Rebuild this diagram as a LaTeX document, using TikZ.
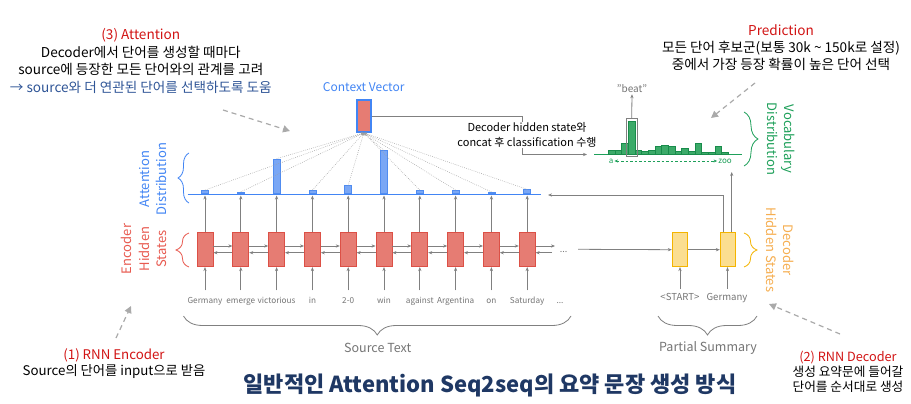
\documentclass[tikz,border=0pt]{standalone}
\usepackage{fontspec}
\setmainfont{Noto Sans CJK KR}
\usetikzlibrary{arrows.meta,decorations.pathreplacing,calc}
\definecolor{garr}{RGB}{128,128,128}
\definecolor{encfill}{RGB}{230,124,115}
\definecolor{encdraw}{RGB}{220,80,70}
\definecolor{decfill}{RGB}{251,222,145}
\definecolor{decdraw}{RGB}{244,180,0}
\definecolor{abfill}{RGB}{122,167,245}
\definecolor{abdraw}{RGB}{80,140,240}
\definecolor{ablue}{RGB}{66,133,244}
\definecolor{vgreen}{RGB}{30,160,90}
\definecolor{vbfill}{RGB}{60,170,105}
\definecolor{vbdraw}{RGB}{25,140,75}
\definecolor{hred}{RGB}{210,20,20}
\definecolor{encred}{RGB}{232,90,80}
\definecolor{decorange}{RGB}{246,174,80}
\definecolor{wgray}{RGB}{117,117,117}
\definecolor{noteblue}{RGB}{47,85,151}
\definecolor{navy}{RGB}{31,56,100}
\definecolor{dgray}{RGB}{170,170,170}
\begin{document}
\begin{tikzpicture}[x=1pt,y=-1pt,
  arr/.style={draw=garr, line width=0.8pt, -{Stealth[length=4pt,width=3.2pt]}},
  encbox/.style={draw=encdraw, fill=encfill, line width=0.8pt, minimum width=16pt, minimum height=34pt, inner sep=0pt},
  decbox/.style={draw=decdraw, fill=decfill, line width=0.8pt, minimum width=15.5pt, minimum height=34pt, inner sep=0pt},
  word/.style={text=wgray, font=\fontsize{8.2}{10}\selectfont, inner xsep=1pt, inner ysep=6pt, text height=7pt, text depth=2pt},
  dword/.style={word, font=\fontsize{9.6}{11}\selectfont, inner ysep=4.5pt},
  abar/.style={draw=abdraw, fill=abfill, line width=0.6pt, minimum width=7pt, inner sep=0pt, anchor=south},
  vbar/.style={draw=vbdraw, fill=vbfill, line width=0.5pt, minimum width=6.667pt, inner sep=0pt, anchor=south},
  dotline/.style={draw=gray!75, line width=0.5pt, dash pattern=on 0.7pt off 1.3pt, -{Stealth[length=3pt,width=2.5pt]}},
  dasharr/.style={draw=dgray, line width=1.2pt, dash pattern=on 5pt off 4pt, -{Triangle[length=7pt,width=7pt]}},
  annot/.style={align=center, font=\fontsize{13.6}{17.6}\selectfont},
  bracestyle/.style={decorate, line width=0.8pt},
  sidelbl/.style={align=center, font=\fontsize{13}{17.4}\selectfont},
]
\fill[white] (0,0) rectangle (911,404);
\useasboundingbox (0,0) rectangle (911,404);

% encoder boxes and words
\foreach \w [count=\i from 0] in {Germany,emerge,victorious,in,2-0,win,against,Argentina,on,Saturday}{
  \node[encbox] (e\i) at ({205+35.8*\i},249.7) {};
  \node[word] (w\i) at ({205+35.8*\i},301) {\w};
  \draw[arr] (w\i.north) -- (e\i.south);
}
\node[word] (wdots) at (560,301) {...};

% horizontal encoder arrows
\foreach \i in {0,...,8}{
  \pgfmathtruncatemacro{\j}{\i+1}
  \draw[arr] ([yshift=3.7pt]e\i.east) -- ([yshift=3.7pt]e\j.west);
  \draw[arr] ([yshift=-3pt]e\j.west) -- ([yshift=-3pt]e\i.east);
}
\coordinate (efw) at (555,246);
\coordinate (ebw) at (552,252.7);
\draw[arr] ([yshift=3.7pt]e9.east) -- (efw);
\draw[arr] (ebw) -- ([yshift=-3pt]e9.east);
\node[text=wgray, font=\fontsize{9}{10}\selectfont, anchor=base] (edots) at (563.5,252) {...};

% decoder
\node[decbox] (d0) at (680,249.7) {};
\node[decbox] (d1) at (728,249.7) {};
\node[dword] (s0) at (680,298) {<START>};
\node[dword] (s1) at (727,298) {Germany};
\draw[arr] (s0.north) -- (d0.south);
\draw[arr] ([xshift=0.5pt]s1.north) -- ([xshift=-0.5pt]d1.south);
\coordinate (dstart) at (578,249.3);
\draw[arr] (dstart) -- (d0.west);
\draw[arr] (d0.east) -- (d1.west);

% attention line and bars
\draw[draw=ablue, line width=0.9pt] (187.7,194.3) -- (540.7,194.3);
\foreach \i/\h in {0/3.3,1/1.5,2/34.7,3/3.3,4/8,5/43,6/3.3,7/3.3,8/1.5,9/4}{
  \node[abar, minimum height=\h pt] (b\i) at ({205+35.8*\i},194) {};
}
\foreach \i in {0,...,9}{
  \draw[arr, shorten >=1.5pt] (e\i.north) -- (b\i.south);
}

% context vector
\node[draw=ablue, fill=encfill, line width=2.2pt, minimum width=14pt, minimum height=31.5pt, inner sep=0pt] (cv) at (363.85,116) {};
\node[text=ablue, font=\fontsize{12}{14}\selectfont] (cvlbl) at (363.7,87.3) {Context Vector};
\foreach \i in {0,...,9}{
  \draw[dotline] (b\i.north) -- (cv.south);
}

% decoder back to attention, and up to vocab
\coordinate (attin) at (548,195);
\draw[arr] ([xshift=-4.7pt]d1.north) |- (attin);
\coordinate (zooarr) at (731.7,172);
\draw[arr] ([xshift=3.7pt]d1.north) -- (zooarr);

% vocabulary distribution
\draw[draw=vgreen, line width=0.9pt] (594,154.5) -- (742,154.5);
\foreach \t [count=\k from 0] in {150.7,150,143.3,121,150,151.3,150,146.7,145.3,146,151,148.3,151,143.3,152.3,152.3,146,152.3}{
  \pgfmathsetmacro{\hh}{154.5-\t}
  \node[vbar, minimum height=\hh pt] (v\k) at ({608.3+6.667*(\k+0.5)},154.5) {};
}
\node[draw=garr, line width=0.8pt, minimum width=11.3pt, minimum height=38.4pt, inner sep=0pt] (bbox) at (631.7,137.5) {};
\node[text=wgray, font=\fontsize{10}{12}\selectfont, inner sep=1pt] (beat) at (632,89) {"beat"};
\draw[arr] (bbox.north) -- (beat.south);
\node[text=vgreen, font=\fontsize{8}{9}\selectfont, inner sep=1pt] (alab) at (611,161) {a};
\node[text=vgreen, font=\fontsize{8}{9}\selectfont, inner sep=1pt] (zlab) at (725,161) {zoo};
\draw[draw=vgreen, line width=0.7pt, dash pattern=on 2.5pt off 2pt, {Stealth[length=3.5pt,width=3pt]}-{Stealth[length=3.5pt,width=3pt]}] (alab.east) -- (zlab.west);

% context to classification
\coordinate (vin) at (587,154.5);
\draw[arr] (cv.east) -| ($(vin)+(-65,0)$) -- (vin);
\node[fill=white, align=center, inner sep=1pt, font=\fontsize{11}{15}\selectfont] (cls) at (527,135) {Decoder hidden state와\\concat 후 classification 수행};

% braces and side labels
\draw[bracestyle, draw=ablue, decoration={brace, amplitude=11pt}] (189,203) -- (189,153);
\node[sidelbl, text=ablue, rotate=90] (attlbl) at (153,179) {Attention\\Distribution};
\draw[bracestyle, draw=encred, decoration={brace, amplitude=13pt}] (189,267) -- (189,233);
\node[sidelbl, text=encred, rotate=90] (enclbl) at (144,249) {Encoder\\Hidden\\States};
\draw[bracestyle, draw=decdraw, decoration={brace, amplitude=13pt}] (744,233) -- (744,267);
\node[sidelbl, text=decorange, rotate=-90] (declbl) at (780,250) {Decoder\\Hidden States};
\draw[bracestyle, draw=vgreen, decoration={brace, amplitude=14pt}] (744,112) -- (744,166);
\node[sidelbl, text=vgreen, rotate=-90] (voclbl) at (781,139) {Vocabulary\\Distribution};
\draw[bracestyle, draw=garr, decoration={brace, amplitude=19pt}] (571,316) -- (183.5,316);
\node[text=wgray, font=\fontsize{12.5}{14}\selectfont] (srclbl) at (377.7,348.3) {Source Text};
\draw[bracestyle, draw=garr, decoration={brace, amplitude=19pt}] (757,316) -- (658,316);
\node[text=wgray, font=\fontsize{12.5}{14}\selectfont] (pslbl) at (708,348.3) {Partial Summary};

% annotations
\node[annot] (att3) at (140.8,61) {\textcolor{hred}{(3) Attention}\\Decoder에서 단어를 생성할 때마다\\source에 등장한 모든 단어와의 관계를 고려\\\textcolor{noteblue}{→ source와 더 연관된 단어를 선택하도록 도움}};
\coordinate (a3s) at (223,110);
\coordinate (a3e) at (290,131);
\draw[dasharr] (a3s) -- (a3e);

\node[annot, font=\fontsize{13.6}{17}\selectfont] (pred) at (781,48) {\textcolor{hred}{Prediction}\\모든 단어 후보군(보통 30k \textasciitilde{} 150k로 설정)\\중에서 가장 등장 확률이 높은 단어 선택};
\coordinate (ps) at (755,83);
\coordinate (pe) at (711,118);
\draw[dasharr] (ps) -- (pe);

\node[annot, font=\fontsize{13.3}{16}\selectfont] (enc1) at (114,364) {\textcolor{hred}{(1) RNN Encoder}\\Source의 단어를 input으로 받음};
\coordinate (e1s) at (116,338);
\coordinate (e1e) at (131,306);
\draw[dasharr] (e1s) -- (e1e);

\node[annot, font=\fontsize{12.7}{15}\selectfont] (dec2) at (848,371.5) {\textcolor{hred}{(2) RNN Decoder}\\생성 요약문에 들어갈\\단어를 순서대로 생성};
\coordinate (d2s) at (840,334);
\coordinate (d2e) at (769,304);
\draw[dasharr] (d2s) -- (d2e);

\node[text=navy, font=\fontsize{22}{26}\selectfont\bfseries] (title) at (490,385) {일반적인 Attention Seq2seq의 요약 문장 생성 방식};
\end{tikzpicture}
\end{document}
